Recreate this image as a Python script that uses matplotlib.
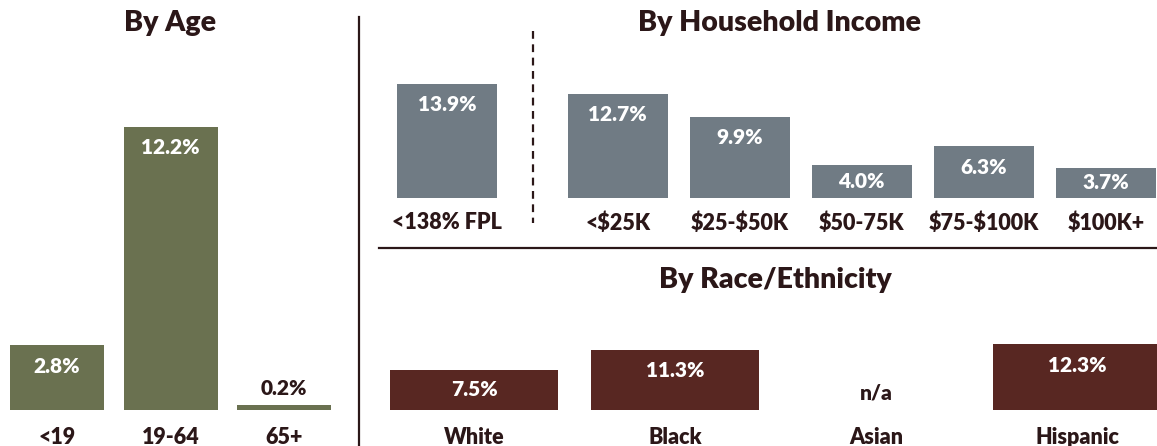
import matplotlib
matplotlib.use("Agg")
import matplotlib.pyplot as plt
from matplotlib.lines import Line2D

# ---------------- data ----------------
age_labels = ["<19", "19-64", "65+"]
age_values = [2.8, 12.2, 0.2]

income_labels = ["<138% FPL", "<$25K", "$25-$50K", "$50-75K", "$75-$100K", "$100K+"]
income_values = [13.9, 12.7, 9.9, 4.0, 6.3, 3.7]

race_labels = ["White", "Black", "Asian", "Hispanic"]
race_values = [7.5, 11.3, None, 12.3]

titles = ["By Age", "By Household Income", "By Race/Ethnicity"]

# ---------------- style ----------------
W, H = 1157, 446
DPI = 100
TXT = "#2b1718"
C_AGE = "#6a7150"
C_INC = "#707b84"
C_RACE = "#582722"
FONT = ["Lato", "DejaVu Sans"]
plt.rcParams["font.family"] = FONT
plt.rcParams["text.parse_math"] = False
WEIGHT = "heavy"

fig = plt.figure(figsize=(W / DPI, H / DPI), dpi=DPI)


def px_axes(left, top, right, bottom):
    ax = fig.add_axes([left / W, 1 - bottom / H, (right - left) / W, (bottom - top) / H])
    ax.set_axis_off()
    return ax


def fx(x):
    return x / W


def fy(y):
    return 1 - y / H


def draw_panel(ax, positions, values, labels, color, width, px_per_unit, top_px, bottom_px,
               label_drop_px):
    height_px = bottom_px - top_px
    ax.set_ylim(0, height_px / px_per_unit)
    for x, v, lab in zip(positions, values, labels):
        if v is not None:
            ax.bar(x, v, width=width, color=color, edgecolor="none", align="center")
            h = v * px_per_unit
            if h < 25:
                ax.annotate(f"{v:.1f}%", xy=(x, v), xytext=(0, 17 * 0.72),
                            textcoords="offset points", ha="center", va="center",
                            color=TXT, fontsize=15, fontweight=WEIGHT)
            else:
                off = min(21, h / 2)
                ax.annotate(f"{v:.1f}%", xy=(x, v), xytext=(0, -off * 0.72),
                            textcoords="offset points", ha="center", va="center",
                            color="white", fontsize=15, fontweight=WEIGHT)
        else:
            ax.annotate("n/a", xy=(x, 0), xytext=(0, 17 * 0.72),
                        textcoords="offset points", ha="center", va="center",
                        color=TXT, fontsize=15, fontweight=WEIGHT)
        ax.annotate(lab, xy=(x, 0), xytext=(0, -label_drop_px * 0.72),
                    textcoords="offset points", ha="center", va="center",
                    color=TXT, fontsize=15.5, fontweight=WEIGHT, annotation_clip=False)


# ---- By Age ----
ax_age = px_axes(0.25, 40, 341, 410)
ax_age.set_xlim(-0.5, 2.5)
draw_panel(ax_age, [0, 1, 2], age_values, age_labels, C_AGE, 94 / 113.5,
           283 / 12.2, 40, 410, 27)

# ---- By Household Income ----
ax_inc = px_axes(380, 40, 1157, 198)
unit = 122.0
ax_inc.set_xlim((380 - 447) / unit, (1157 - 447) / unit)
inc_pos = [0, 1.4, 2.4, 3.4, 4.4, 5.4]
draw_panel(ax_inc, inc_pos, income_values, income_labels, C_INC, 100 / unit,
           114 / 13.9, 40, 198, 25)

# ---- By Race/Ethnicity ----
ax_race = px_axes(373.5, 300, 1157, 410)
unit_r = 201.0
ax_race.set_xlim(-0.5, (1157 - 474) / unit_r)
draw_panel(ax_race, [0, 1, 2, 3], race_values, race_labels, C_RACE, 168 / unit_r,
           40 / 7.5, 300, 410, 27)

# ---- titles ----
fig.text(fx(170), fy(23), titles[0], ha="center", va="center", color=TXT,
         fontsize=20.5, fontweight=WEIGHT)
fig.text(fx(779), fy(23), titles[1], ha="center", va="center", color=TXT,
         fontsize=20.5, fontweight=WEIGHT)
fig.text(fx(775), fy(280), titles[2], ha="center", va="center", color=TXT,
         fontsize=20.5, fontweight=WEIGHT)

# ---- separator lines ----
fig.add_artist(Line2D([fx(359), fx(359)], [fy(17), fy(446)], color=TXT, lw=1.6))
fig.add_artist(Line2D([fx(379), fx(1157)], [fy(248), fy(248)], color=TXT, lw=1.6))
fig.add_artist(Line2D([fx(533), fx(533)], [fy(31), fy(223)], color=TXT, lw=1.6,
                      linestyle=(0, (3.5, 2.5))))

fig.savefig("out.png", dpi=DPI, facecolor="white")
